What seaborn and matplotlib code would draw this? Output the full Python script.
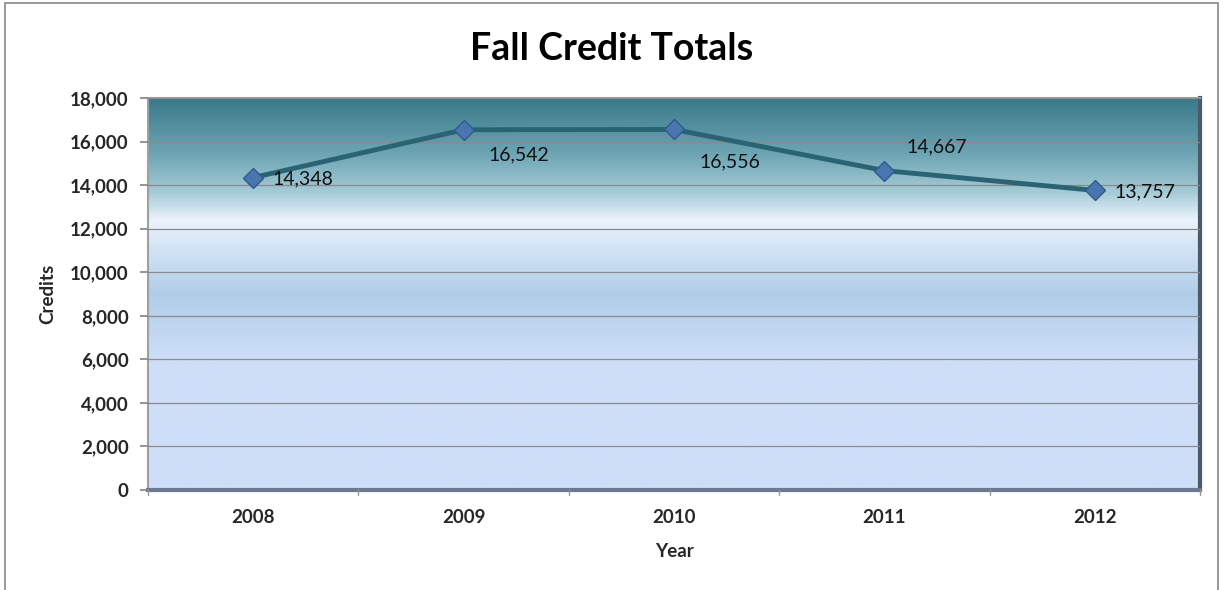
import numpy as np
import pandas as pd
import matplotlib
matplotlib.use("Agg")
import matplotlib.pyplot as plt
from matplotlib.colors import LinearSegmentedColormap
from matplotlib.patches import Rectangle
import seaborn as sns

years = ["2008", "2009", "2010", "2011", "2012"]
credits = [14348, 16542, 16556, 14667, 13757]
label_offsets = [(14, -1), (18, -18), (18, -23), (16, 17), (14, -1)]

sns.set_theme(style="white")
plt.rcParams['font.family'] = ['Lato', 'DejaVu Sans']

fig = plt.figure(figsize=(12.25, 5.9), dpi=100)
ax = fig.add_axes([148/1225, 1-490/590, 1052/1225, 392/590])

# background gradient (bottom -> top)
stops = [
    (0.00, (207/255, 222/255, 248/255)),
    (0.33, (207/255, 222/255, 248/255)),
    (0.50, (176/255, 205/255, 232/255)),
    (0.62, (212/255, 228/255, 245/255)),
    (0.69, (236/255, 243/255, 252/255)),
    (0.76, (165/255, 203/255, 215/255)),
    (0.86, (110/255, 165/255, 180/255)),
    (1.00, (58/255, 122/255, 138/255)),
]
cmap = LinearSegmentedColormap.from_list("bg", stops)
grad = np.linspace(0, 1, 400).reshape(-1, 1)
ax.imshow(grad, aspect="auto", cmap=cmap, origin="lower",
          extent=[-0.5, 4.5, 0, 18000], zorder=0)

df = pd.DataFrame({"Year": years, "Credits": credits})
df["x"] = np.arange(len(years))
sns.lineplot(data=df, x="x", y="Credits", ax=ax, color="#2a6473", lw=3.5,
             marker="D", markersize=10, markerfacecolor="#4a76b0",
             markeredgecolor="#2f5a8f", markeredgewidth=1, zorder=3)

for i, v in enumerate(credits):
    dx, dy = label_offsets[i]
    ax.annotate(f"{v:,}", (i, v), xytext=(dx, dy), textcoords="offset points",
                ha="left", va="center", fontsize=14, color="#111111", zorder=4)

ax.set_xlim(-0.5, 4.5)
ax.set_ylim(0, 18000)
ax.set_yticks(range(0, 18001, 2000))
ax.set_yticklabels([f"{t:,}" for t in range(0, 18001, 2000)], fontsize=13.5, fontweight="bold")
ax.set_xticks(range(len(years)))
ax.set_xticklabels(years, fontsize=13.5, fontweight="bold")
ax.grid(axis="y", color="#8a8a8a", lw=0.9, zorder=1)
ax.set_axisbelow(False)
for gl in ax.get_ygridlines():
    gl.set_zorder(1)

ax.tick_params(axis="x", length=0, pad=14)
ax.tick_params(axis="y", length=6, color="#888888", direction="out", left=True, pad=8)
for b in np.arange(-0.5, 4.6, 1.0):
    ax.plot([b, b], [0, -250], color="#999999", lw=1, clip_on=False, zorder=5)

for s in ["top", "left"]:
    ax.spines[s].set_color("#a0a0a0")
    ax.spines[s].set_linewidth(1.5)
ax.spines["right"].set_color("#4a5a6a")
ax.spines["right"].set_linewidth(3)
ax.spines["bottom"].set_color("#6a7890")
ax.spines["bottom"].set_linewidth(3)

ax.set_xlabel("Year", fontsize=13.5, fontweight="bold", labelpad=12)
ax.set_ylabel("Credits", fontsize=13.5, fontweight="bold", labelpad=10)

fig.text(612/1225, 1-49/590, "Fall Credit Totals", ha="center", va="center",
         fontsize=27, fontweight="bold", color="#000000")

fig.patches.append(Rectangle((5/1225, -0.05), 1213/1225, 1.045, transform=fig.transFigure,
                             fill=False, edgecolor="#888888", lw=1.2))

fig.savefig("out.png", dpi=100)
